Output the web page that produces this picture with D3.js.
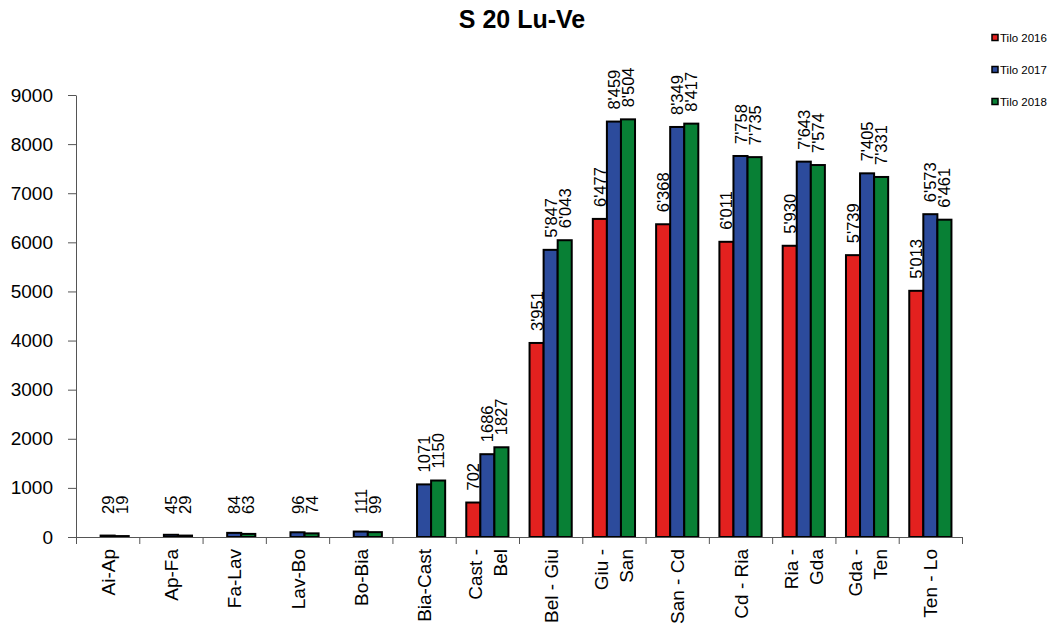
<!DOCTYPE html>
<html>
  <head>
    <title>S 20 Lu-Ve</title>
    <meta charset="utf-8">
    <script src="https://d3js.org/d3.v7.min.js"></script>
    <style>
      body { margin: 0; background: #fff; }
      svg text { font-family: "Liberation Sans", Arial, sans-serif; }
    </style>
  </head>
  <body>
    <div class="chart"></div>

    <script>

    // categories (line breaks as wrapped in the original)
    var categories = ["Ai-Ap", "Ap-Fa", "Fa-Lav", "Lav-Bo", "Bo-Bia", "Bia-Cast", "Cast -\nBel",
      "Bel - Giu", "Giu -\nSan", "San - Cd", "Cd - Ria", "Ria -\nGda", "Gda -\nTen", "Ten - Lo"];

    var series = ["Tilo 2016", "Tilo 2017", "Tilo 2018"];

    var tilo2016 = [null, null, null, null, null, null, 702, 3951, 6477, 6368, 6011, 5930, 5739, 5013];
    var tilo2017 = [29, 45, 84, 96, 111, 1071, 1686, 5847, 8459, 8349, 7758, 7643, 7405, 6573];
    var tilo2018 = [19, 29, 63, 74, 99, 1150, 1827, 6043, 8504, 8417, 7735, 7574, 7331, 6461];

    var yTicks = [0, 1000, 2000, 3000, 4000, 5000, 6000, 7000, 8000, 9000];

    var colors = ["#e3211f", "#2c4b9c", "#088035"];

    var values = [tilo2016, tilo2017, tilo2018];

    var width = 1052, height = 632;
    var mLeft = 76, mRight = 962, mTop = 95, mBottom = 537;

    var svg = d3.select(".chart").append("svg")
      .attr("width", width).attr("height", height);

    var x0 = d3.scaleBand().domain(d3.range(categories.length)).range([mLeft, mRight]);
    var x1 = d3.scaleBand().domain(d3.range(series.length)).range([0, x0.bandwidth()])
      .paddingInner(0).paddingOuter(0.75);
    var yScale = d3.scaleLinear().domain([0, 9000]).range([mBottom, mTop]);

    // title
    svg.append("text")
      .attr("x", 522).attr("y", 28)
      .attr("text-anchor", "middle")
      .attr("font-size", "25px").attr("font-weight", "bold")
      .text("S 20 Lu-Ve");

    // bars
    var rows = [];
    values.forEach(function(arr, s) {
      arr.forEach(function(v, i) {
        if (v != null) rows.push({s: s, i: i, v: v});
      });
    });

    svg.selectAll(".bar")
      .data(rows)
      .enter()
      .append("rect")
      .attr("class", "bar")
      .attr("x", function(d) { return x0(d.i) + x1(d.s); })
      .attr("width", x1.bandwidth())
      .attr("y", function(d) { return yScale(d.v); })
      .attr("height", function(d) { return yScale(0) - yScale(d.v); })
      .attr("fill", function(d) { return colors[d.s]; })
      .attr("stroke", "#000")
      .attr("stroke-width", 2);

    // value labels
    function fmt(v) {
      return v >= 2000 ? d3.format(",")(v).replace(",", "'") : String(v);
    }

    svg.selectAll(".vlabel")
      .data(rows)
      .enter()
      .append("text")
      .attr("class", "vlabel")
      .attr("transform", function(d) {
        var cx = x0(d.i) + x1(d.s) + x1.bandwidth() / 2 + 6;
        var ty = Math.min(yScale(d.v) - 12, 514);
        return "translate(" + cx + "," + ty + ") rotate(-90)";
      })
      .attr("font-size", "16.5px")
      .attr("fill", "#000")
      .text(function(d) { return fmt(d.v); });

    // y axis
    var yAxis = svg.append("g")
      .attr("transform", "translate(" + mLeft + ",0)")
      .call(d3.axisLeft(yScale).tickValues(yTicks).tickSize(8).tickPadding(15).tickSizeOuter(0)
        .tickFormat(d3.format("d")));
    yAxis.selectAll("text").attr("font-size", "19px").attr("fill", "#000")
      .attr("font-family", "Liberation Sans, Arial, sans-serif");
    yAxis.selectAll("line, path").attr("stroke", "#555");

    // x axis (ticks between categories)
    var xl = d3.scaleLinear().domain([0, categories.length]).range([mLeft, mRight]);
    var xAxis = svg.append("g")
      .attr("transform", "translate(0," + mBottom + ")")
      .call(d3.axisBottom(xl).tickValues(d3.range(categories.length + 1)).tickSize(7)
        .tickSizeOuter(0).tickFormat(""));
    xAxis.selectAll("line, path").attr("stroke", "#555");

    // category labels
    var cl = svg.selectAll(".clabel")
      .data(categories)
      .enter()
      .append("text")
      .attr("class", "clabel")
      .attr("transform", function(d, i) {
        return "translate(" + (x0(i) + x0.bandwidth() / 2) + "," + (mBottom + 12) + ") rotate(-90)";
      })
      .attr("text-anchor", "end")
      .attr("font-size", "19px")
      .attr("fill", "#000");

    cl.each(function(d) {
      var lines = d.split("\n");
      var t = d3.select(this);
      lines.forEach(function(line, k) {
        t.append("tspan")
          .attr("x", 0)
          .attr("y", 7 + (k - (lines.length - 1) / 2) * 25)
          .text(line);
      });
    });

    // legend
    var legend = svg.selectAll(".legend")
      .data(series)
      .enter()
      .append("g")
      .attr("class", "legend")
      .attr("transform", function(d, i) { return "translate(992," + (38 + i * 32) + ")"; });

    legend.append("rect")
      .attr("x", 0).attr("y", -3.5)
      .attr("width", 6).attr("height", 6)
      .attr("fill", function(d, i) { return colors[i]; })
      .attr("stroke", "#000").attr("stroke-width", 1.5);

    legend.append("text")
      .attr("x", 8).attr("y", 4)
      .attr("font-size", "11.5px")
      .attr("fill", "#000")
      .text(function(d) { return d; });

    </script>
  </body>
</html>
